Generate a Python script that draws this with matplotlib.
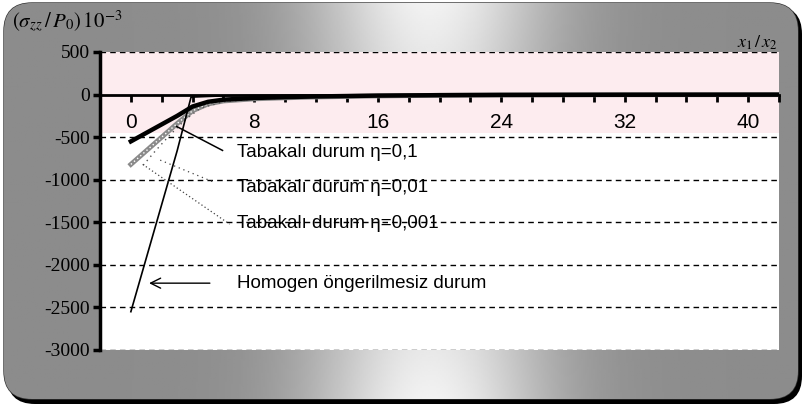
import numpy as np
import matplotlib.pyplot as plt
from matplotlib.patches import FancyBboxPatch

plt.rcParams['mathtext.fontset'] = 'stix'
narrow = ['Liberation Sans Narrow', 'Liberation Sans', 'DejaVu Sans']
serif = ['Liberation Serif', 'DejaVu Serif']

# data
x_hom = [0, 1, 2, 3, 3.9, 6, 8, 12, 16, 24, 32, 42]
y_hom = [-2550, -1920, -1290, -660, -30, -15, -10, -6, -4, -2, -1, -1]

x_01 = [0, 1, 2, 3, 4, 5, 6, 8, 10, 12, 16, 20, 24, 32, 42]
y_01 = [-550, -450, -350, -250, -140, -85, -60, -40, -30, -22, -12, -7, -4, -2, -1]

x_001 = [0, 1, 2, 3, 4, 5, 6, 8, 10, 12, 16, 20, 24, 32, 42]
y_001 = [-820, -660, -500, -340, -190, -110, -75, -50, -38, -28, -16, -9, -5, -2, -1]

x_0001 = [0.8, 1.5, 2.5, 3.5, 4.5, 6, 8, 12, 16, 24, 42]
y_0001 = [-830, -680, -480, -300, -160, -85, -55, -30, -18, -6, -1]

y_ticks = [500, 0, -500, -1000, -1500, -2000, -2500, -3000]
x_ticks = [0, 8, 16, 24, 32, 40]
grid_levels = [500, -500, -1000, -1500, -2000, -2500, -3000]

labels = ['Tabakalı durum η=0,1', 'Tabakalı durum η=0,01',
          'Tabakalı durum η=0,001', 'Homogen öngerilmesiz durum']
label_pos = [(6.9, -680), (6.85, -1090), (6.85, -1515), (6.85, -2215)]

fig = plt.figure(figsize=(8.06, 4.07), dpi=100)

# grey frame behind the plot
bg = fig.add_axes([0, 0, 1, 1], zorder=-5)
bg.set_xlim(0, 806)
bg.set_ylim(407, 0)
bg.axis('off')
xx = np.linspace(0, 806, 400)
yy = np.linspace(0, 407, 200)
X, Y = np.meshgrid(xx, yy)
G = 0.55 + 0.40 * np.exp(-((X - 430) / 120) ** 2) * (0.6 + 0.4 * np.abs(Y - 200) / 200)
shadow = FancyBboxPatch((7, 6), 795, 398, boxstyle='round,pad=0,rounding_size=28',
                        fc='black', ec='black', lw=0)
bg.add_patch(shadow)
frame = FancyBboxPatch((4, 3), 794, 396, boxstyle='round,pad=0,rounding_size=28',
                       fc='none', ec='#333333', lw=1)
bg.add_patch(frame)
im = bg.imshow(G, extent=(0, 806, 407, 0), cmap='gray', vmin=0, vmax=1,
               aspect='auto', zorder=1)
im.set_clip_path(frame)

ax = fig.add_axes([100 / 806, 1 - 350 / 407, 679 / 806, 298 / 407])
ax.set_facecolor('white')
ax.set_xlim(-2, 41.8)
ax.set_ylim(-3000, 500)
ax.axhspan(-450, 500, color='#fdecef', lw=0, zorder=0)

for v in grid_levels:
    ax.axhline(v, color='black', lw=1, ls=(0, (4, 3)), zorder=1)

ax.plot(x_hom, y_hom, color='black', lw=1.2, zorder=4)
ax.plot(x_001, y_001, color='#8a8a8a', lw=3.5, zorder=3)
ax.plot(x_001, y_001, color='white', lw=1, ls=(0, (1, 2)), zorder=3)
ax.plot(x_0001, y_0001, color='#555555', lw=1, ls=(0, (1, 3)), zorder=3)
ax.plot(x_01, y_01, color='black', lw=3.2, zorder=4)

# leaders
ax.plot([2.97, 5.94], [-375, -656], color='black', lw=1.1, zorder=4)
ax.plot([1.9, 5.4], [-770, -1030], color='#444444', lw=0.9, ls=(0, (1, 3)), zorder=4)
ax.plot([0.77, 6.4], [-820, -1522], color='#444444', lw=0.9, ls=(0, (1, 2)), zorder=4)
ax.annotate('', xy=(1.0, -2215), xytext=(5.3, -2215),
            arrowprops=dict(arrowstyle='->', color='black', lw=1, mutation_scale=18))

for t, (px, py) in zip(labels, label_pos):
    ax.text(px, py, t, fontsize=13.5, family=narrow, va='center', ha='left', zorder=5)

ax.spines['top'].set_visible(False)
ax.spines['right'].set_visible(False)
ax.spines['left'].set_linewidth(2.5)
ax.spines['bottom'].set_position(('data', 0))
ax.spines['bottom'].set_linewidth(2)

ax.set_yticks(y_ticks)
ax.set_yticklabels([str(v) for v in y_ticks], family=serif, fontsize=14)
ax.tick_params(axis='y', direction='out', length=5, width=2.5, pad=2)

ax.set_xticks(x_ticks)
ax.set_xticks(range(-2, 43, 2), minor=True)
ax.set_xticklabels([str(v) for v in x_ticks], family=narrow, fontsize=15)
ax.tick_params(axis='x', which='both', direction='out', length=5, width=2, pad=8)

fig.text(12 / 806, 1 - 22 / 407, r'$(\sigma_{zz}\,/\,P_0)\,10^{-3}$', fontsize=15,
         va='center', ha='left')
fig.text(757 / 806, 1 - 43 / 407, r'$x_1\,/\,x_2$', fontsize=13, va='center', ha='center')

fig.savefig('out.png', dpi=100)
